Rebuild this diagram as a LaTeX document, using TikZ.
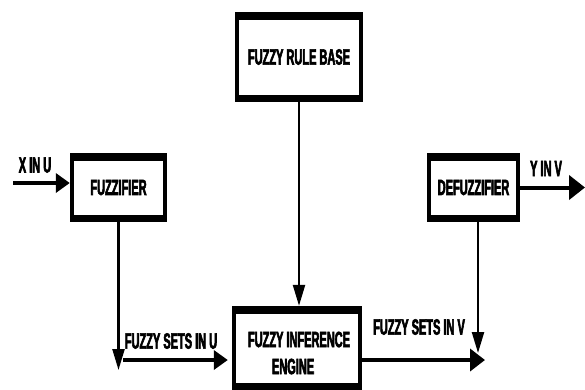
\documentclass[tikz,border=0pt]{standalone}
\usepackage{fontspec}
\setmainfont{Liberation Sans}[FakeStretch=0.5, BoldFeatures={FakeBold=2.6}]
\usetikzlibrary{arrows.meta}
\begin{document}
\begin{tikzpicture}[x=1pt,y=-1pt,
  lbl/.style={inner sep=0pt, font=\bfseries\fontsize{22}{27}\selectfont},
  box/.style={rectangle, fill=black, inner sep=0pt,
    font=\bfseries\fontsize{22}{27}\selectfont,
    path picture={\fill[white] ([xshift=4pt,yshift=-8pt]path picture bounding box.north west)
      rectangle ([xshift=-4pt,yshift=7pt]path picture bounding box.south east);}},
  thickarrow/.style={line width=4pt, -{Triangle[length=14pt,width=19pt]}},
  thinarrow/.style={line width=2.3pt, -{Triangle[length=21pt,width=12pt]}}
]
\useasboundingbox (0,0) rectangle (585,389);
\fill[white] (0,0) rectangle (585,389);

\node[box, minimum width=97pt, minimum height=69pt] (fuzz) at (118.5,187.5) {FUZZIFIER};
\node[box, minimum width=128pt, minimum height=90pt] (rule) at (299,57) {FUZZY RULE BASE};
\node[box, minimum width=93pt, minimum height=69pt] (def) at (473.5,187.5) {DEFUZZIFIER};
\node[box, minimum width=130pt, minimum height=84pt] (inf) at (297,348) {};
\node[lbl, align=left] (inftext) at (299,353) {FUZZY INFERENCE\\\hspace*{24pt}ENGINE};

\coordinate (xin) at (13,183);
\coordinate (yout) at (585,187);
\coordinate (ud) at (118,370);
\coordinate (uh) at (123,360);
\coordinate (vh) at (485,360);
\coordinate (vd) at (478,353);

\draw[thickarrow] (xin) -- (fuzz.west |- xin);
\draw[thickarrow, -{Triangle[length=16pt,width=24pt]}] (def.east) -- (def.east -| yout);
\draw[thinarrow] (rule.south) -- (rule.south |- inf.north);
\draw[thinarrow] (fuzz.south) -- (fuzz.south |- ud);
\draw[thickarrow, shorten >=4pt] (uh) -- (inf.west |- uh);
\draw[thickarrow, -{Triangle[length=15pt,width=22pt]}] (inf.east |- vh) -- (vh);
\draw[thinarrow] (vd |- def.south) -- (vd);

\node[lbl] (xlab) at (35,165) {X IN U};
\node[lbl] (ylab) at (546,168.5) {Y IN V};
\node[lbl] (ulab) at (171,341) {FUZZY SETS IN U};
\node[lbl] (vlab) at (419,327) {FUZZY SETS IN V};
\end{tikzpicture}
\end{document}
